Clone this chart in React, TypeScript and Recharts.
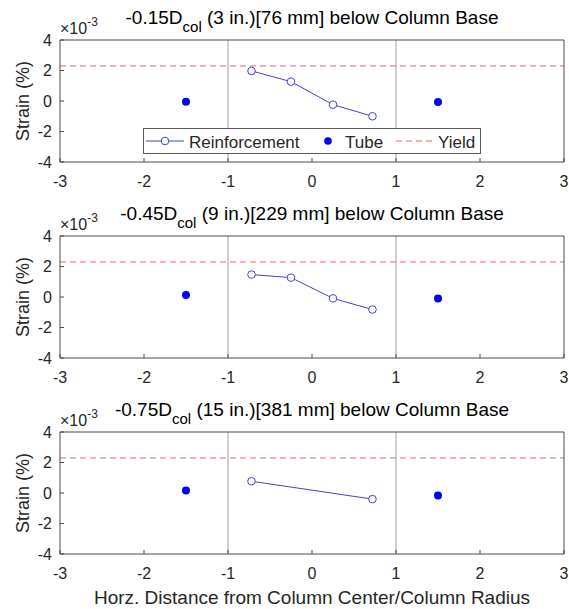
import React from 'react';
import { ComposedChart, Line, Scatter, XAxis, YAxis, ReferenceLine, Label, Legend } from 'recharts';

// ---- data (strain values in units of 10^-3) ----
const xTicks = [-3, -2, -1, 0, 1, 2, 3];
const yTicks = [-4, -2, 0, 2, 4];
const columnEdges = [-1, 1];
const yieldStrain = 2.3;

const reinfXFour = [-0.72, -0.25, 0.25, 0.72];
const reinfXTwo = [-0.72, 0.72];
const tubeX = [-1.5, 1.5];

const reinfY1 = [1.97, 1.27, -0.24, -1.0];
const tubeY1 = [-0.05, -0.06];
const reinfY2 = [1.47, 1.27, -0.09, -0.82];
const tubeY2 = [0.13, -0.1];
const reinfY3 = [0.77, -0.4];
const tubeY3 = [0.17, -0.16];

const depthLabels = ['-0.15', '-0.45', '-0.75'];
const depthRest = [
  ' (3 in.)[76 mm] below Column Base',
  ' (9 in.)[229 mm] below Column Base',
  ' (15 in.)[381 mm] below Column Base',
];
const legendLabels = ['Reinforcement', 'Tube', 'Yield'];
const yLabel = 'Strain (%)';
const xLabel = 'Horz. Distance from Column Center/Column Radius';

// ---- style ----
const W = 569;
const PLOT_L = 60;
const PLOT_R = 564;
const FONT = '"Liberation Sans", Arial, Helvetica, sans-serif';
const AXIS = '#4a4a4a';
const TEXT = '#262626';
const REINF = '#4242cc';
const TUBE = '#0000ff';
const YIELD = '#e8656a';
const EDGE = '#a0a0a0';

const LegendBox = () => (
  <svg width={338} height={26} style={{ display: 'block' }}>
    <rect x={0.5} y={0.5} width={337} height={25} fill="#fff" stroke="#5a5a5a" />
    <line x1={3} x2={41} y1={13} y2={13} stroke={REINF} strokeWidth={1} />
    <circle cx={22} cy={13} r={3.8} fill="#fff" stroke={REINF} strokeWidth={1} />
    <text x={46} y={20} fontFamily={FONT} fontSize={17} fill={TEXT}>{legendLabels[0]}</text>
    <circle cx={185} cy={13} r={3.8} fill={TUBE} />
    <text x={202} y={20} fontFamily={FONT} fontSize={17} fill={TEXT}>{legendLabels[1]}</text>
    <line x1={253} x2={293} y1={13} y2={13} stroke={YIELD} strokeWidth={1} strokeDasharray="6 4" />
    <text x={295} y={20} fontFamily={FONT} fontSize={17} fill={TEXT}>{legendLabels[2]}</text>
  </svg>
);

const makePanelText = (idx: number) => (props: any) => {
  const vb = props.viewBox || { x: 0, y: 40, width: 60, height: 122 };
  const top = vb.y;
  const cx = PLOT_L + (PLOT_R - PLOT_L) / 2;
  return (
    <g>
      <text x={cx} y={top - 16} textAnchor="middle" fontFamily={FONT} fontSize={19} fill="#000" style={{ whiteSpace: 'pre' }}>
        {depthLabels[idx]}D<tspan dy={8} fontSize={15}>col</tspan><tspan dy={-8}>{depthRest[idx]}</tspan>
      </text>
      <text x={PLOT_L} y={top - 6} fontFamily={FONT} fontSize={16} fill={TEXT}>
        ×10<tspan dy={-8} fontSize={12}>-3</tspan>
      </text>
      <text
        transform={`translate(${vb.x + 23},${top + vb.height / 2}) rotate(-90)`}
        textAnchor="middle"
        dominantBaseline="central"
        fontFamily={FONT}
        fontSize={18}
        fill={TEXT}
      >
        {yLabel}
      </text>
    </g>
  );
};

const XLabelContent = (props: any) => {
  const vb = props.viewBox || { x: PLOT_L, y: 554, width: PLOT_R - PLOT_L, height: 55 };
  return (
    <text x={vb.x + vb.width / 2} y={vb.y + 50} textAnchor="middle" fontFamily={FONT} fontSize={19} fill={TEXT}>
      {xLabel}
    </text>
  );
};

const TubeDot = (props: any) => <circle cx={props.cx} cy={props.cy} r={4} fill={TUBE} />;

type PanelProps = {
  idx: number;
  reinfX: number[];
  reinfY: number[];
  tubeY: number[];
  top: number;
  height: number;
  showLegend?: boolean;
  showXLabel?: boolean;
};

const Panel = ({ idx, reinfX, reinfY, tubeY, top, height, showLegend, showXLabel }: PanelProps) => {
  const reinfData = reinfX.map((x, i) => ({ x, y: reinfY[i] }));
  const tubeData = tubeX.map((x, i) => ({ x, y: tubeY[i] }));
  const xAxisH = showXLabel ? 55 : 34;
  const tickStyle = { fill: TEXT, fontSize: 16, fontFamily: FONT };
  return (
    <div style={{ position: 'absolute', left: 0, top, width: W, height }}>
      <ComposedChart width={W} height={height} margin={{ top: 40, right: W - PLOT_R, bottom: 0, left: 0 }}>
        <XAxis
          type="number"
          dataKey="x"
          domain={[-3, 3]}
          ticks={xTicks}
          interval={0}
          allowDataOverflow
          height={xAxisH}
          tickSize={-4}
          tickMargin={18}
          axisLine={{ stroke: AXIS }}
          tickLine={{ stroke: AXIS }}
          tick={tickStyle}
        >
          {showXLabel ? <Label content={XLabelContent} /> : null}
        </XAxis>
        <XAxis
          xAxisId="top"
          orientation="top"
          type="number"
          domain={[-3, 3]}
          ticks={xTicks}
          interval={0}
          allowDataOverflow
          mirror
          tick={false}
          tickSize={4}
          axisLine={{ stroke: AXIS }}
          tickLine={{ stroke: AXIS }}
        />
        <YAxis
          type="number"
          dataKey="y"
          domain={[-4, 4]}
          ticks={yTicks}
          interval={0}
          allowDataOverflow
          width={60}
          tickSize={-4}
          tickMargin={12}
          axisLine={{ stroke: AXIS }}
          tickLine={{ stroke: AXIS }}
          tick={tickStyle}
        >
          <Label content={makePanelText(idx)} />
        </YAxis>
        <YAxis
          yAxisId="right"
          orientation="right"
          type="number"
          domain={[-4, 4]}
          ticks={yTicks}
          interval={0}
          allowDataOverflow
          mirror
          tick={false}
          tickSize={4}
          axisLine={{ stroke: AXIS }}
          tickLine={{ stroke: AXIS }}
        />
        {columnEdges.map((e) => (
          <ReferenceLine key={e} x={e} stroke={EDGE} strokeWidth={1} />
        ))}
        <ReferenceLine y={yieldStrain} stroke={YIELD} strokeWidth={1} strokeDasharray="6 4" />
        <Line
          data={reinfData}
          dataKey="y"
          name={legendLabels[0]}
          type="linear"
          stroke={REINF}
          strokeWidth={1}
          dot={{ r: 3.8, fill: '#fff', stroke: REINF, strokeWidth: 1 }}
          activeDot={false}
          isAnimationActive={false}
        />
        <Scatter data={tubeData} dataKey="y" name={legendLabels[1]} shape={TubeDot} isAnimationActive={false} />
        {showLegend ? (
          <Legend
            layout="vertical"
            align="center"
            verticalAlign="middle"
            content={LegendBox}
            wrapperStyle={{ position: 'absolute', left: 143, top: 128, width: 338, height: 26, margin: 0 }}
          />
        ) : null}
      </ComposedChart>
    </div>
  );
};

export default function App() {
  return (
    <div style={{ position: 'absolute', left: 0, top: 0, width: W, height: 609, background: '#fff', fontFamily: FONT }}>
      <Panel idx={0} reinfX={reinfXFour} reinfY={reinfY1} tubeY={tubeY1} top={0} height={196} showLegend />
      <Panel idx={1} reinfX={reinfXFour} reinfY={reinfY2} tubeY={tubeY2} top={196} height={196} />
      <Panel idx={2} reinfX={reinfXTwo} reinfY={reinfY3} tubeY={tubeY3} top={392} height={217} showXLabel />
    </div>
  );
}
